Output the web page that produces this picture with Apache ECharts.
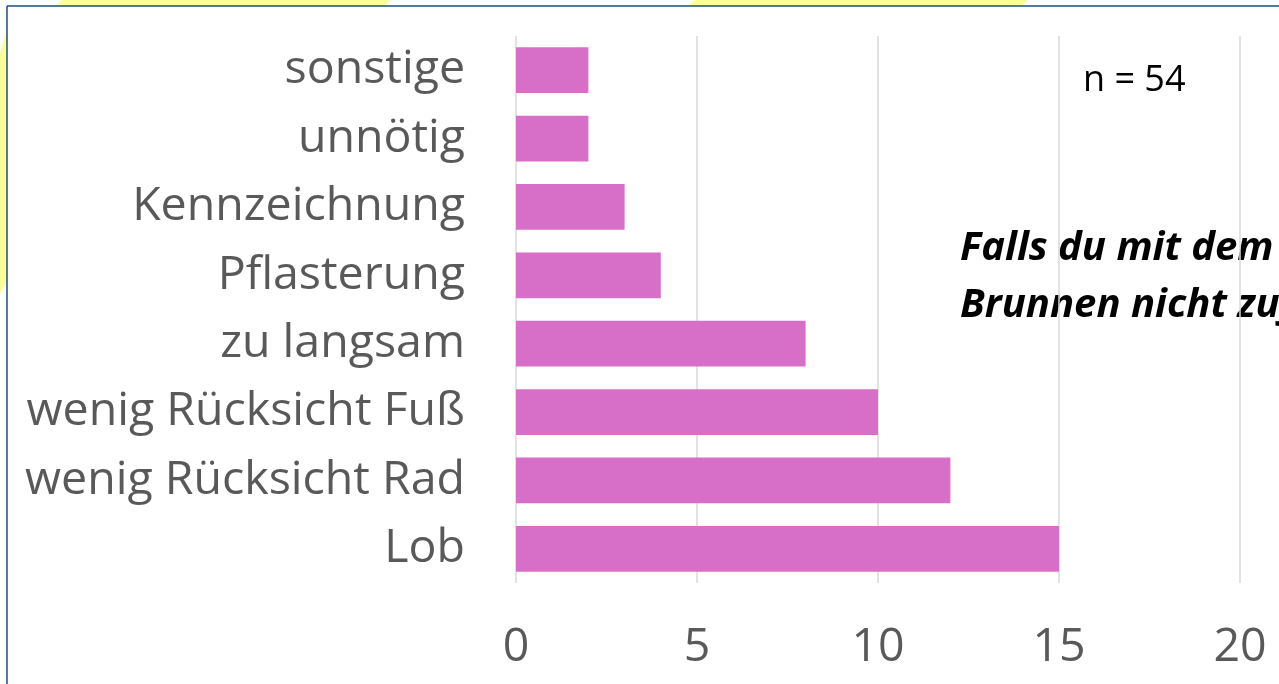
<!doctype html>
<html>
<head>
<meta charset="UTF-8">
<title>Falls du mit dem Brunnen nicht zufrieden bist</title>
<style>
  html, body { margin: 0; padding: 0; background: #fff; }
  #main { width: 1279px; height: 684px; }
</style>
</head>
<body>
<div id="main"></div>
<script src="https://cdn.jsdelivr.net/npm/echarts@6/dist/echarts.min.js"></script>
<script>
// Kategorien von oben nach unten
var categories = ['sonstige', 'unnötig', 'Kennzeichnung', 'Pflasterung', 'zu langsam',
                  'wenig Rücksicht Fuß', 'wenig Rücksicht Rad', 'Lob'];
var counts = [2, 2, 3, 4, 8, 10, 12, 15];
var xTicks = [0, 5, 10, 15, 20];
var noteText = 'n = 54';
var titleLines = ['Falls du mit dem', 'Brunnen nicht zufrieden bist ...'];

var myChart = echarts.init(document.getElementById('main'));

var yellow = '#ffff99';
var border = '#1f4e79';

var option = {
    animation: false,
    backgroundColor: '#fff',
    textStyle: { fontFamily: '"Open Sans", "Noto Sans", sans-serif' },
    grid: { left: 516, right: 39, top: 36, bottom: 101, containLabel: false },
    xAxis: {
        type: 'value',
        min: xTicks[0],
        max: xTicks[xTicks.length - 1],
        interval: 5,
        axisLine: { show: false },
        axisTick: { show: false },
        splitLine: { show: true, lineStyle: { color: '#d9d9d9', width: 1.5 } },
        axisLabel: { color: '#595959', fontSize: 46.5, margin: 41 }
    },
    yAxis: {
        type: 'category',
        inverse: true,
        data: categories,
        axisLine: { show: false },
        axisTick: { show: false },
        axisLabel: { color: '#595959', fontSize: 46.5, margin: 51, padding: [6, 0, 0, 0] }
    },
    series: [{
        type: 'bar',
        data: counts,
        barCategoryGap: '33%',
        itemStyle: { color: '#d76fc9' }
    }],
    graphic: [
        // gelbe Hintergrundformen der Folie
        { type: 'polygon', z: -20, shape: { points: [[55, 6], [62, 0], [391, 0], [385, 6]] }, style: { fill: yellow } },
        { type: 'polygon', z: -20, shape: { points: [[688, 6], [695, 0], [1028, 0], [1021, 6]] }, style: { fill: yellow } },
        { type: 'polygon', z: -20, shape: { points: [[0, 52], [7, 30], [7, 280], [0, 294]] }, style: { fill: yellow } },
        // Rahmen
        { type: 'line', z: 50, shape: { x1: 7, y1: 6, x2: 1279, y2: 6 }, style: { stroke: border, lineWidth: 1.5 } },
        { type: 'line', z: 50, shape: { x1: 7, y1: 6, x2: 7, y2: 684 }, style: { stroke: border, lineWidth: 1.5 } },
        // n = 54
        { type: 'text', z: 50, left: 1083, top: 63,
          style: { text: noteText, fill: '#000', font: '36px "Open Sans", sans-serif' } },
        // Frage (liegt unter den Gitterlinien)
        { type: 'text', z: -10, left: 960, top: 229,
          style: { text: titleLines[0], fill: '#000', font: 'italic bold 40px "Open Sans", sans-serif' } },
        { type: 'text', z: -10, left: 960, top: 286,
          style: { text: titleLines[1], fill: '#000', font: 'italic bold 40px "Open Sans", sans-serif' } }
    ]
};

myChart.setOption(option);
</script>
</body>
</html>
